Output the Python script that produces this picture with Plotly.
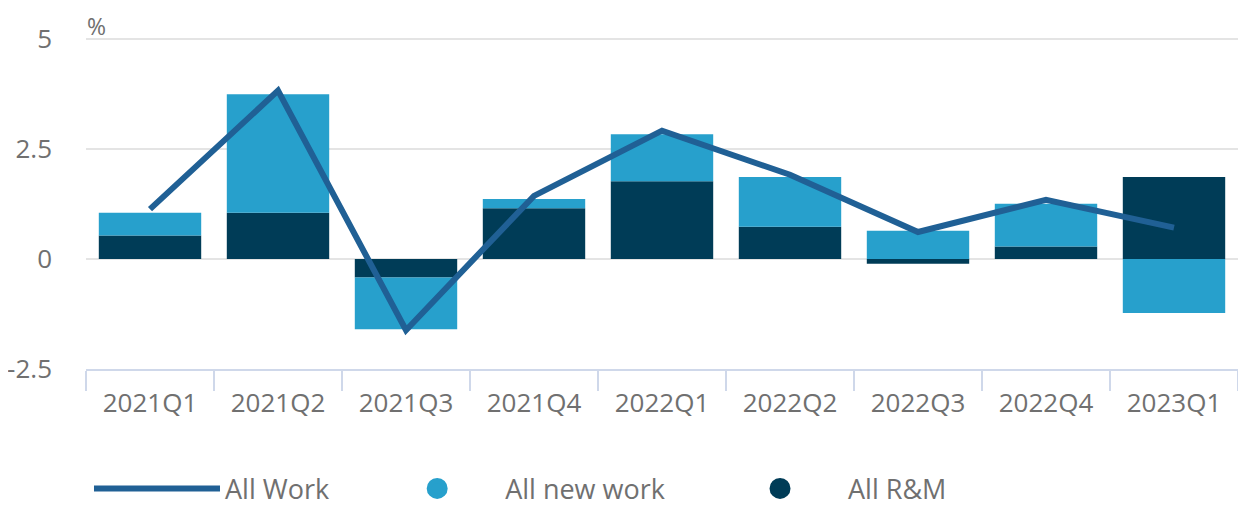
import plotly.graph_objects as go

quarters = ["2021Q1", "2021Q2", "2021Q3", "2021Q4", "2022Q1", "2022Q2", "2022Q3", "2022Q4", "2023Q1"]
all_rm = [0.53, 1.05, -0.42, 1.15, 1.76, 0.73, -0.11, 0.28, 1.86]
all_new_work = [0.52, 2.69, -1.18, 0.21, 1.07, 1.13, 0.64, 0.97, -1.23]
all_work = [1.13, 3.82, -1.62, 1.43, 2.91, 1.91, 0.61, 1.34, 0.71]
y_ticks = [-2.5, 0, 2.5, 5]
y_tick_labels = ["-2.5", "0", "2.5", "5"]

C_LINE = "#206095"
C_NEW = "#27a0cc"
C_RM = "#003c57"
GREY = "#707070"
PAD1 = "\u00a0" * 5
PAD2 = "\u00a0" * 6

fig = go.Figure()
fig.add_trace(go.Bar(x=quarters, y=all_rm, name="All R&M", marker=dict(color=C_RM, line=dict(width=0)),
                     showlegend=False))
fig.add_trace(go.Bar(x=quarters, y=all_new_work, name="All new work", marker=dict(color=C_NEW, line=dict(width=0)),
                     showlegend=False))
fig.add_trace(go.Scatter(x=quarters, y=all_work, name="All Work" + PAD1, mode="lines",
                         line=dict(color=C_LINE, width=6), legendrank=1))
fig.add_trace(go.Scatter(x=[None], y=[None], name="All new work" + PAD2, mode="markers",
                         marker=dict(color=C_NEW, size=26, symbol="circle", line=dict(color=C_NEW, width=5)),
                         legendrank=2))
fig.add_trace(go.Scatter(x=[None], y=[None], name="All R&M", mode="markers",
                         marker=dict(color=C_RM, size=26, symbol="circle", line=dict(color=C_RM, width=5)),
                         legendrank=3))

fig.update_layout(
    barmode="relative",
    bargap=0.2,
    margin=dict(l=78, r=0, t=28, b=146, autoexpand=False),
    plot_bgcolor="white",
    paper_bgcolor="white",
    font=dict(family="Open Sans", color=GREY, size=26),
    showlegend=True,
    legend=dict(orientation="h", x=0.0026, xanchor="left", y=-0.36, yanchor="middle",
                font=dict(size=27, color=GREY), itemwidth=126,
                itemsizing="trace", traceorder="normal"),
    xaxis=dict(type="category", categoryorder="array", categoryarray=quarters,
               showgrid=False, showline=True, linecolor="#cfd8ea", linewidth=2,
               ticks="outside", tickson="boundaries", ticklen=20, tickcolor="#cfd8ea", tickwidth=2,
               ticklabelstandoff=10, tickfont=dict(size=26, color=GREY), fixedrange=True),
    yaxis=dict(range=[-2.5, 5.06], tickvals=y_ticks, ticktext=y_tick_labels, showgrid=True,
               gridcolor="#e4e4e4", gridwidth=2, zeroline=True, zerolinecolor="#e4e4e4", zerolinewidth=2,
               showline=False, ticks="", ticklabelstandoff=33, tickfont=dict(size=26, color=GREY),
               fixedrange=True),
    annotations=[dict(text="%", xref="paper", yref="paper", x=0, y=1, xanchor="left", yanchor="top",
                      yshift=27, showarrow=False, borderpad=0, font=dict(size=23, color=GREY))],
)

fig.write_html("out.html", config={"displayModeBar": False})
